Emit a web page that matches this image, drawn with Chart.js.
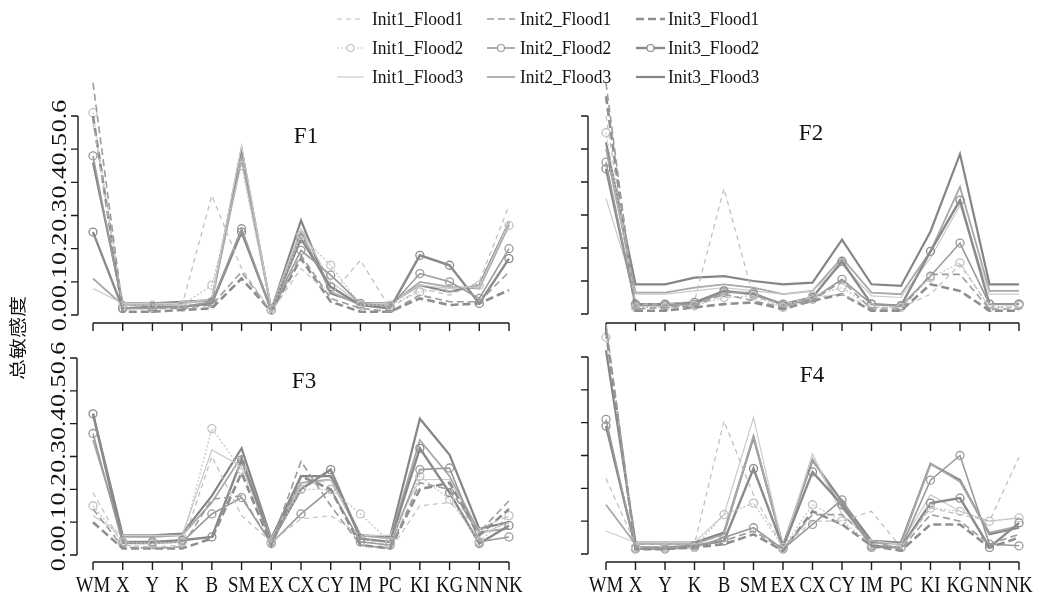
<!DOCTYPE html>
<html>
<head>
<meta charset="utf-8">
<script src="https://cdn.jsdelivr.net/npm/chart.js@4"></script>
<style>
  html, body { margin: 0; padding: 0; background: #fff; }
  body { width: 1060px; height: 601px; position: relative; overflow: hidden; }
  canvas { position: absolute; left: 0; top: 0; }
</style>
</head>
<body>
<canvas id="cF1" width="1060" height="601"></canvas>
<canvas id="cF2" width="1060" height="601"></canvas>
<canvas id="cF3" width="1060" height="601"></canvas>
<canvas id="cF4" width="1060" height="601"></canvas>
<script>
// ---------------- DATA ----------------
const categories = ['WM','X','Y','K','B','SM','EX','CX','CY','IM','PC','KI','KG','NN','NK'];
const yTicks = [0.0, 0.1, 0.2, 0.3, 0.4, 0.5, 0.6];
const seriesNames = ['Init1_Flood1','Init2_Flood1','Init3_Flood1',
                     'Init1_Flood2','Init2_Flood2','Init3_Flood2',
                     'Init1_Flood3','Init2_Flood3','Init3_Flood3'];
const yTitle = '总敏感度';

// Panel F1 (rows follow seriesNames order)
const F1 = [
  [0.58, 0.03, 0.03, 0.03, 0.36, 0.14, 0.01, 0.14, 0.06, 0.165, 0.02, 0.08, 0.06, 0.10, 0.33],
  [0.70, 0.02, 0.02, 0.02, 0.03, 0.13, 0.01, 0.18, 0.05, 0.02, 0.01, 0.06, 0.04, 0.04, 0.13],
  [0.60, 0.01, 0.01, 0.015, 0.02, 0.11, 0.01, 0.17, 0.04, 0.01, 0.01, 0.05, 0.03, 0.035, 0.075],
  [0.61, 0.03, 0.03, 0.03, 0.09, 0.45, 0.015, 0.24, 0.15, 0.03, 0.03, 0.07, 0.08, 0.09, 0.27],
  [0.48, 0.02, 0.02, 0.025, 0.04, 0.26, 0.015, 0.195, 0.12, 0.035, 0.025, 0.125, 0.10, 0.05, 0.20],
  [0.25, 0.02, 0.025, 0.025, 0.035, 0.25, 0.015, 0.23, 0.085, 0.03, 0.02, 0.18, 0.15, 0.035, 0.17],
  [0.08, 0.035, 0.035, 0.035, 0.05, 0.51, 0.02, 0.26, 0.10, 0.035, 0.035, 0.09, 0.08, 0.085, 0.28],
  [0.11, 0.03, 0.03, 0.035, 0.045, 0.47, 0.02, 0.25, 0.07, 0.03, 0.03, 0.10, 0.085, 0.08, 0.27],
  [0.46, 0.035, 0.035, 0.04, 0.045, 0.50, 0.015, 0.285, 0.065, 0.035, 0.035, 0.09, 0.07, 0.09, 0.28]
];
// Panel F2
const F2 = [
  [0.60, 0.03, 0.03, 0.04, 0.38, 0.05, 0.03, 0.05, 0.06, 0.02, 0.02, 0.06, 0.15, 0.02, 0.02],
  [0.70, 0.015, 0.02, 0.025, 0.06, 0.04, 0.02, 0.04, 0.10, 0.015, 0.015, 0.12, 0.12, 0.015, 0.015],
  [0.66, 0.01, 0.01, 0.02, 0.03, 0.035, 0.015, 0.04, 0.06, 0.01, 0.01, 0.09, 0.07, 0.01, 0.01],
  [0.55, 0.02, 0.02, 0.025, 0.05, 0.055, 0.02, 0.055, 0.08, 0.02, 0.02, 0.11, 0.155, 0.02, 0.025],
  [0.46, 0.025, 0.025, 0.03, 0.065, 0.065, 0.025, 0.045, 0.105, 0.03, 0.025, 0.115, 0.215, 0.03, 0.03],
  [0.44, 0.03, 0.03, 0.035, 0.07, 0.06, 0.03, 0.05, 0.16, 0.03, 0.025, 0.19, 0.345, 0.03, 0.03],
  [0.35, 0.06, 0.06, 0.07, 0.08, 0.07, 0.06, 0.07, 0.15, 0.055, 0.05, 0.17, 0.33, 0.06, 0.06],
  [0.50, 0.065, 0.065, 0.08, 0.09, 0.08, 0.06, 0.07, 0.17, 0.065, 0.06, 0.19, 0.385, 0.07, 0.07],
  [0.52, 0.09, 0.09, 0.11, 0.115, 0.10, 0.09, 0.095, 0.225, 0.09, 0.085, 0.25, 0.485, 0.09, 0.09]
];
// Panel F3
const F3 = [
  [0.19, 0.03, 0.025, 0.03, 0.30, 0.12, 0.04, 0.11, 0.12, 0.06, 0.015, 0.15, 0.16, 0.08, 0.12],
  [0.14, 0.025, 0.02, 0.025, 0.17, 0.18, 0.035, 0.285, 0.15, 0.03, 0.02, 0.22, 0.20, 0.07, 0.165],
  [0.10, 0.02, 0.02, 0.02, 0.05, 0.25, 0.03, 0.24, 0.20, 0.03, 0.02, 0.20, 0.22, 0.06, 0.14],
  [0.15, 0.04, 0.035, 0.04, 0.385, 0.26, 0.04, 0.20, 0.20, 0.125, 0.04, 0.24, 0.17, 0.04, 0.12],
  [0.37, 0.035, 0.035, 0.04, 0.125, 0.175, 0.035, 0.125, 0.20, 0.04, 0.03, 0.26, 0.265, 0.04, 0.055],
  [0.43, 0.04, 0.04, 0.045, 0.055, 0.29, 0.04, 0.20, 0.26, 0.05, 0.04, 0.325, 0.19, 0.035, 0.09],
  [0.12, 0.06, 0.06, 0.06, 0.32, 0.27, 0.05, 0.21, 0.23, 0.06, 0.06, 0.23, 0.23, 0.06, 0.10],
  [0.35, 0.055, 0.055, 0.06, 0.16, 0.30, 0.045, 0.22, 0.23, 0.06, 0.05, 0.35, 0.24, 0.07, 0.08],
  [0.43, 0.06, 0.06, 0.065, 0.18, 0.325, 0.05, 0.24, 0.24, 0.06, 0.055, 0.415, 0.305, 0.08, 0.10]
];
// Panel F4
const F4 = [
  [0.23, 0.03, 0.03, 0.03, 0.405, 0.18, 0.02, 0.10, 0.10, 0.13, 0.02, 0.14, 0.12, 0.10, 0.295],
  [0.70, 0.02, 0.02, 0.025, 0.04, 0.07, 0.015, 0.12, 0.12, 0.04, 0.015, 0.12, 0.10, 0.03, 0.06],
  [0.68, 0.015, 0.015, 0.02, 0.03, 0.06, 0.01, 0.13, 0.09, 0.025, 0.01, 0.09, 0.09, 0.02, 0.05],
  [0.66, 0.02, 0.02, 0.02, 0.12, 0.155, 0.02, 0.15, 0.10, 0.03, 0.02, 0.14, 0.13, 0.10, 0.11],
  [0.41, 0.015, 0.015, 0.02, 0.05, 0.08, 0.015, 0.09, 0.165, 0.02, 0.02, 0.225, 0.30, 0.03, 0.025],
  [0.39, 0.02, 0.02, 0.025, 0.04, 0.26, 0.02, 0.25, 0.15, 0.025, 0.02, 0.155, 0.17, 0.02, 0.095],
  [0.07, 0.035, 0.035, 0.035, 0.12, 0.415, 0.02, 0.305, 0.12, 0.04, 0.03, 0.18, 0.13, 0.10, 0.11],
  [0.15, 0.03, 0.03, 0.03, 0.06, 0.36, 0.02, 0.29, 0.14, 0.035, 0.03, 0.275, 0.22, 0.065, 0.085],
  [0.62, 0.035, 0.035, 0.035, 0.065, 0.355, 0.025, 0.285, 0.16, 0.04, 0.035, 0.275, 0.225, 0.06, 0.08]
];

// ---------------- STYLES ----------------
const seriesStyles = [
  { color: '#bdbdbd', dash: [5, 4], width: 1.2, pr: 0 },
  { color: '#9c9c9c', dash: [7, 4], width: 1.6, pr: 0 },
  { color: '#8e8e8e', dash: [8, 4], width: 2.6, pr: 0 },
  { color: '#c2c2c2', dash: [2, 2], width: 1.2, pr: 4 },
  { color: '#9a9a9a', dash: [],     width: 1.6, pr: 4 },
  { color: '#8a8a8a', dash: [],     width: 2.4, pr: 4 },
  { color: '#cacaca', dash: [],     width: 1.2, pr: 0 },
  { color: '#a8a8a8', dash: [],     width: 1.8, pr: 0 },
  { color: '#858585', dash: [],     width: 2.2, pr: 0 }
];

const SERIF = '"Liberation Serif", "Times New Roman", serif';

const rStyleAxes = {
  id: 'rStyleAxes',
  afterDatasetsDraw(chart, args, o) {
    const { ctx, chartArea: ca, scales: { x, y } } = chart;
    ctx.save();
    ctx.strokeStyle = '#1b1b1b';
    ctx.fillStyle = '#111';
    ctx.lineWidth = 1.4;
    ctx.setLineDash([]);
    // y axis (R style, detached)
    const yA = o.yAxisX;
    const pTop = y.getPixelForValue(yTicks[yTicks.length - 1]);
    const pBot = y.getPixelForValue(yTicks[0]);
    ctx.beginPath();
    ctx.moveTo(yA, pTop); ctx.lineTo(yA, pBot);
    yTicks.forEach(v => { const p = y.getPixelForValue(v); ctx.moveTo(yA, p); ctx.lineTo(yA - 7, p); });
    // x axis
    const xA = ca.bottom;
    const pL = x.getPixelForValue(0), pR = x.getPixelForValue(categories.length - 1);
    ctx.moveTo(pL, xA); ctx.lineTo(pR, xA);
    categories.forEach((c, i) => { const p = x.getPixelForValue(i); ctx.moveTo(p, xA); ctx.lineTo(p, xA + 8); });
    ctx.stroke();

    if (o.yLabels) {
      ctx.font = '26px ' + SERIF;
      ctx.textAlign = 'center';
      ctx.textBaseline = 'alphabetic';
      yTicks.forEach(v => {
        const p = y.getPixelForValue(v);
        ctx.save();
        ctx.translate(yA - 12, p);
        ctx.rotate(-Math.PI / 2);
        ctx.scale(1, 0.8);
        ctx.fillText(v.toFixed(1), 0, 0);
        ctx.restore();
      });
    }
    if (o.xLabels) {
      ctx.font = '23px ' + SERIF;
      ctx.textAlign = 'center';
      ctx.textBaseline = 'alphabetic';
      categories.forEach((c, i) => {
        const p = x.getPixelForValue(i);
        ctx.save();
        ctx.translate(p, xA + 30);
        ctx.scale(0.82, 1);
        ctx.fillText(c, 0, 0);
        ctx.restore();
      });
    }
    // panel title
    ctx.font = '23px ' + SERIF;
    ctx.textAlign = 'center';
    ctx.textBaseline = 'alphabetic';
    ctx.fillText(o.title, o.titleX, o.titleY);

    // legend + y title (drawn once)
    if (o.legend) {
      const colX = [[337, 364, 372], [487, 515, 520], [636, 665, 668]];
      const rowY = [19, 48, 77];
      chart.data.datasets.forEach((ds, i) => {
        const c = i % 3, r = Math.floor(i / 3);
        const yy = rowY[r];
        ctx.save();
        ctx.strokeStyle = ds.borderColor;
        ctx.lineWidth = ds.borderWidth;
        ctx.setLineDash(ds.borderDash || []);
        ctx.beginPath();
        ctx.moveTo(colX[c][0], yy); ctx.lineTo(colX[c][1], yy);
        ctx.stroke();
        if (ds.pointRadius > 0) {
          ctx.setLineDash([]);
          ctx.lineWidth = 1.2;
          ctx.fillStyle = '#fff';
          ctx.beginPath();
          ctx.arc((colX[c][0] + colX[c][1]) / 2, yy, 3.5, 0, Math.PI * 2);
          ctx.fill(); ctx.stroke();
        }
        ctx.fillStyle = '#111';
        ctx.font = '19px ' + SERIF;
        ctx.textAlign = 'left';
        ctx.textBaseline = 'middle';
        ctx.translate(colX[c][2], yy + 1);
        ctx.scale(0.92, 1);
        ctx.fillText(ds.label, 0, 0);
        ctx.restore();
      });
      ctx.save();
      ctx.fillStyle = '#111';
      ctx.font = '21px "Noto Sans CJK SC"';
      ctx.textAlign = 'center';
      ctx.textBaseline = 'middle';
      ctx.translate(18, 338);
      ctx.rotate(-Math.PI / 2);
      ctx.scale(1, 0.8);
      ctx.fillText(yTitle, 0, 0);
      ctx.restore();
    }
    ctx.restore();
  }
};

function makePanel(id, title, values, L) {
  const ppu = (L.y0 - L.y6) / 0.6;          // pixels per unit
  const yMin = -(L.bottom - L.y0) / ppu;
  const yMax = (L.y0 - L.top) / ppu;
  const datasets = seriesNames.map((name, i) => {
    const s = seriesStyles[i];
    return {
      label: name,
      data: values[i],
      borderColor: s.color,
      borderWidth: s.width,
      borderDash: s.dash,
      pointRadius: s.pr,
      pointStyle: 'circle',
      pointBorderColor: s.color,
      pointBackgroundColor: 'rgba(255,255,255,0)',
      pointBorderWidth: 1.3,
      fill: false,
      tension: 0,
      clip: { left: 30, right: 30, top: 0, bottom: 30 }
    };
  });
  return new Chart(document.getElementById(id), {
    type: 'line',
    data: { labels: categories, datasets },
    options: {
      responsive: false,
      animation: false,
      devicePixelRatio: 1,
      events: [],
      layout: { padding: { left: L.left, right: 1060 - L.right, top: L.top, bottom: 601 - L.bottom } },
      scales: {
        x: { type: 'category', display: false, offset: false },
        y: { type: 'linear', display: false, min: yMin, max: yMax }
      },
      plugins: {
        legend: { display: false },
        tooltip: { enabled: false },
        rStyleAxes: {
          title, yAxisX: L.yAxisX, yLabels: L.yLabels, xLabels: L.xLabels,
          titleX: L.titleX, titleY: L.titleY, legend: !!L.legend
        }
      }
    },
    plugins: [rStyleAxes]
  });
}

makePanel('cF1', 'F1', F1, { left: 93, right: 509, y0: 315, y6: 116, top: 80, bottom: 323,
  yAxisX: 78, yLabels: true, xLabels: false, titleX: 306, titleY: 143, legend: true });
makePanel('cF2', 'F2', F2, { left: 606, right: 1019, y0: 314, y6: 116, top: 80, bottom: 323,
  yAxisX: 588, yLabels: false, xLabels: false, titleX: 811, titleY: 140 });
makePanel('cF3', 'F3', F3, { left: 93, right: 509, y0: 555, y6: 358, top: 323, bottom: 562,
  yAxisX: 77, yLabels: true, xLabels: true, titleX: 304, titleY: 388 });
makePanel('cF4', 'F4', F4, { left: 606, right: 1019, y0: 554, y6: 357, top: 323, bottom: 562,
  yAxisX: 588, yLabels: false, xLabels: true, titleX: 812, titleY: 382 });
</script>
</body>
</html>
